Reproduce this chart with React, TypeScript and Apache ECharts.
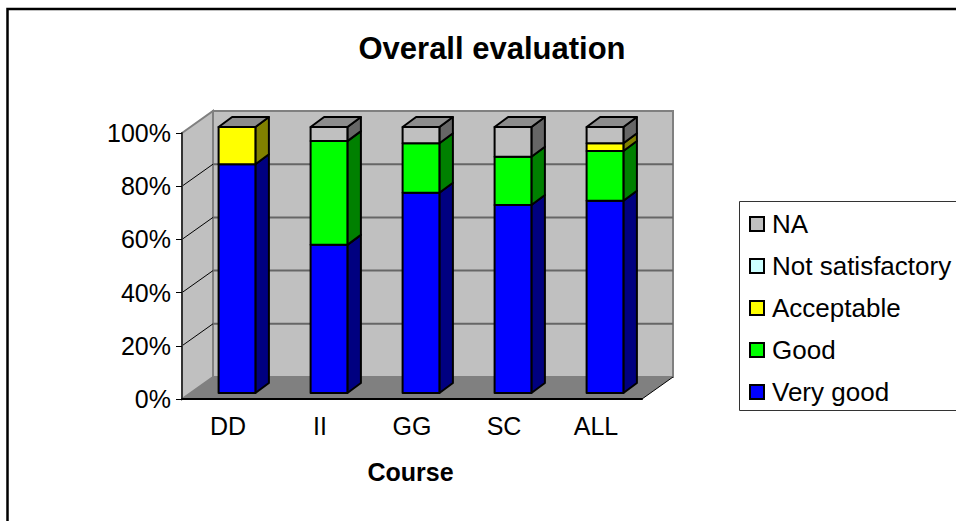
import React, { useEffect, useRef } from "react";
import * as echarts from "echarts";

const courses = ["DD", "II", "GG", "SC", "ALL"];
const percentTicks = [0, 20, 40, 60, 80, 100];

const veryGood = [86, 55.7, 75.3, 70.7, 72.3];
const good = [0, 39, 18.6, 18.1, 18.7];
const acceptable = [14, 0, 0, 0, 2.9];
const notSatisfactory = [0, 0, 0, 0, 0];
const na = [0, 5.3, 6.1, 11.2, 6.1];

const levels = [
  { name: "Very good", values: veryGood, front: "#0000ff", side: "#000080" },
  { name: "Good", values: good, front: "#00ff00", side: "#008000" },
  { name: "Acceptable", values: acceptable, front: "#ffff00", side: "#808000" },
  { name: "Not satisfactory", values: notSatisfactory, front: "#ccffff", side: "#668080" },
  { name: "NA", values: na, front: "#c0c0c0", side: "#666666" },
];

const FONT = "Liberation Sans";
const WALL_DX = 31;
const WALL_DY = -22;
const BAR_SHIFT_X = 9;
const BAR_SHIFT_Y = -6;
const BAR_RATIO = 0.4;
const BAR_DX = 13.5;
const BAR_DY = -10;

// Back wall, side wall, floor and the gridlines that wrap around them.
function renderWalls(params: any, api: any) {
  const tick = api.value(0);
  const band = api.size([1, 0])[0];
  const left = api.coord([0, 0])[0] - band / 2;
  const right = api.coord([courses.length - 1, 0])[0] + band / 2;
  const y0 = api.coord([0, 0])[1];
  const yTop = api.coord([0, 100])[1];
  const y = api.coord([0, tick])[1];
  const children: any[] = [];
  if (params.dataIndex === 0) {
    children.push(
      {
        type: "polygon",
        shape: {
          points: [
            [left + WALL_DX, yTop + WALL_DY],
            [right + WALL_DX, yTop + WALL_DY],
            [right + WALL_DX, y0 + WALL_DY],
            [left + WALL_DX, y0 + WALL_DY],
          ],
        },
        style: { fill: "#c0c0c0", stroke: "#808080", lineWidth: 2 },
      },
      {
        type: "polygon",
        shape: {
          points: [
            [left, yTop],
            [left + WALL_DX, yTop + WALL_DY],
            [left + WALL_DX, y0 + WALL_DY],
            [left, y0],
          ],
        },
        style: { fill: "#c0c0c0", stroke: "#808080", lineWidth: 2 },
      },
      {
        type: "polygon",
        shape: {
          points: [
            [left, y0],
            [left + WALL_DX, y0 + WALL_DY],
            [right + WALL_DX, y0 + WALL_DY],
            [right, y0],
          ],
        },
        style: { fill: "#808080" },
      },
      {
        type: "line",
        shape: { x1: right, y1: y0, x2: right + WALL_DX, y2: y0 + WALL_DY },
        style: { stroke: "#000", lineWidth: 1 },
      },
    );
  } else if (tick < 100) {
    children.push(
      {
        type: "line",
        shape: { x1: left, y1: y, x2: left + WALL_DX, y2: y + WALL_DY },
        style: { stroke: "#000", lineWidth: 1 },
      },
      {
        type: "line",
        shape: { x1: left + WALL_DX, y1: y + WALL_DY, x2: right + WALL_DX, y2: y + WALL_DY },
        style: { stroke: "#666666", lineWidth: 2 },
      },
    );
  }
  return { type: "group", children };
}

// One stacked block: front face, right side and lid.
function blockRenderer(front: string, side: string, lid: boolean) {
  return (_params: any, api: any) => {
    const category = api.value(0);
    const low = api.coord([category, api.value(1)]);
    const high = api.coord([category, api.value(2)]);
    const width = api.size([1, 0])[0] * BAR_RATIO;
    const x0 = low[0] + BAR_SHIFT_X - width / 2;
    const x1 = x0 + width;
    const yl = low[1] + BAR_SHIFT_Y;
    const yh = high[1] + BAR_SHIFT_Y;
    const stroke = { stroke: "#000", lineWidth: 2, lineJoin: "round" };
    const children: any[] = [];
    if (yl - yh > 0.01) {
      children.push(
        {
          type: "polygon",
          shape: { points: [[x1, yl], [x1 + BAR_DX, yl + BAR_DY], [x1 + BAR_DX, yh + BAR_DY], [x1, yh]] },
          style: { fill: side, ...stroke },
        },
        {
          type: "polygon",
          shape: { points: [[x0, yl], [x1, yl], [x1, yh], [x0, yh]] },
          style: { fill: front, ...stroke },
        },
      );
    }
    if (lid) {
      children.push({
        type: "polygon",
        shape: { points: [[x0, yh], [x1, yh], [x1 + BAR_DX, yh + BAR_DY], [x0 + BAR_DX, yh + BAR_DY]] },
        style: { fill: "#8c8c8c", ...stroke },
      });
    }
    return { type: "group", children };
  };
}

function stackedSeries() {
  const running = courses.map(() => 0);
  return levels.map((level, li) => {
    const data = level.values.map((v, i) => {
      const start = running[i];
      running[i] += v;
      return [i, start, running[i]];
    });
    return {
      type: "custom",
      name: level.name,
      coordinateSystem: "cartesian2d",
      renderItem: blockRenderer(level.front, level.side, li === levels.length - 1),
      encode: { x: 0, y: [1, 2] },
      itemStyle: { color: level.front },
      data,
      z: 3 + li,
      silent: true,
    };
  });
}

export default function App() {
  const ref = useRef<HTMLDivElement>(null);
  useEffect(() => {
    if (!ref.current) return;
    const chart = echarts.init(ref.current, undefined, { renderer: "svg" });
    chart.setOption({
      animation: false,
      backgroundColor: "#ffffff",
      textStyle: { fontFamily: FONT },
      title: {
        text: "Overall evaluation",
        left: 487,
        top: 28,
        textAlign: "center",
        textStyle: { fontFamily: FONT, fontSize: 31, fontWeight: "bold", color: "#000" },
      },
      grid: { left: 182, top: 133, width: 460, height: 266, containLabel: false },
      xAxis: {
        type: "category",
        data: courses,
        name: "Course",
        nameLocation: "middle",
        nameGap: 60,
        nameTextStyle: { fontFamily: FONT, fontSize: 25, fontWeight: "bold", color: "#000", padding: [0, 3, 0, 0] },
        axisLine: { lineStyle: { color: "#000", width: 2 } },
        axisTick: { alignWithLabel: false, length: 7, lineStyle: { color: "#000", width: 1 } },
        axisLabel: { fontFamily: FONT, fontSize: 25, color: "#000", margin: 14 },
      },
      yAxis: {
        type: "value",
        min: 0,
        max: 100,
        interval: 20,
        splitLine: { show: false },
        axisLine: { show: true, lineStyle: { color: "#333333", width: 2 } },
        axisTick: { show: true, length: 6, lineStyle: { color: "#000", width: 1 } },
        axisLabel: { fontFamily: FONT, fontSize: 25, color: "#000", margin: 11, formatter: "{value}%" },
      },
      legend: {
        orient: "vertical",
        left: 749,
        top: 210,
        padding: 0,
        itemWidth: 14,
        itemHeight: 14,
        itemGap: 14,
        icon: "rect",
        selectedMode: false,
        data: [...levels].reverse().map((l) => l.name),
        itemStyle: { borderColor: "#000", borderWidth: 2 },
        textStyle: { fontFamily: FONT, fontSize: 26, color: "#000", padding: [0, 0, 0, 3], lineHeight: 28 },
      },
      graphic: [
        {
          type: "rect",
          shape: { x: 7.5, y: 9, width: 1100, height: 700 },
          style: { fill: "none", stroke: "#000", lineWidth: 2.5 },
          silent: true,
          z: 10,
        },
        {
          type: "rect",
          shape: { x: 739.5, y: 201.5, width: 400, height: 209 },
          style: { fill: "#fff", stroke: "#333", lineWidth: 1 },
          silent: true,
          z: -1,
        },
      ],
      series: [
        {
          type: "custom",
          name: "walls",
          coordinateSystem: "cartesian2d",
          renderItem: renderWalls,
          encode: { y: 0 },
          data: percentTicks.map((t) => [t]),
          z: -1,
          silent: true,
        },
        ...stackedSeries(),
      ],
    });
    return () => chart.dispose();
  }, []);
  return <div ref={ref} style={{ position: "absolute", left: 0, top: 0, width: 956, height: 521 }} />;
}
